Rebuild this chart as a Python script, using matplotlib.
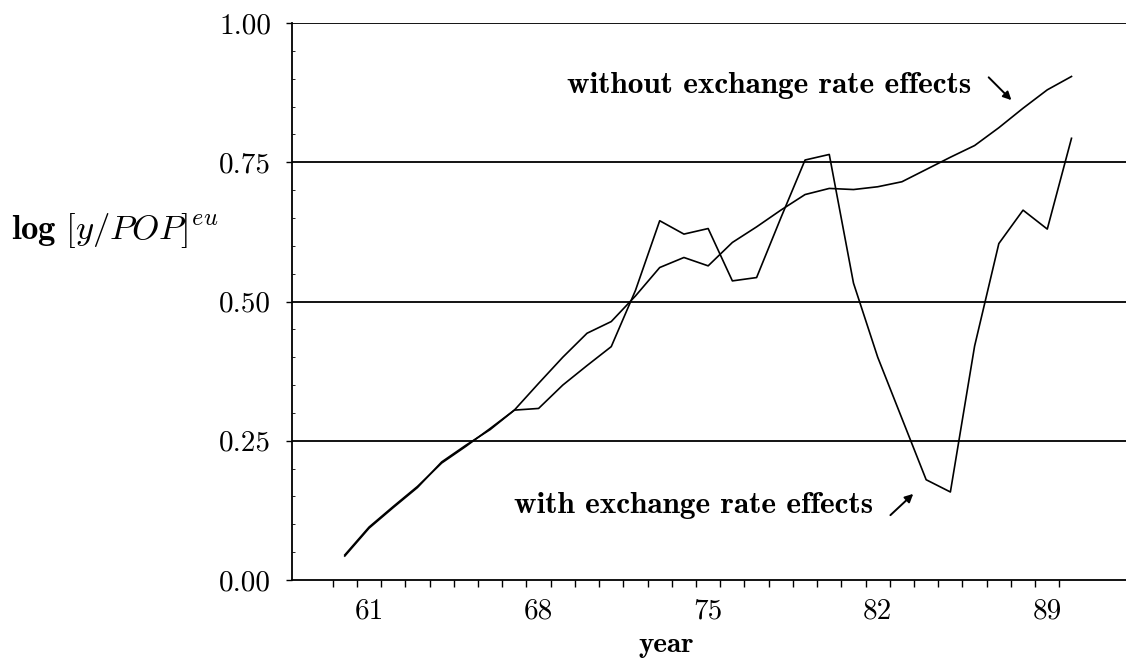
import numpy as np
import matplotlib
matplotlib.use('Agg')
import matplotlib.pyplot as plt
from matplotlib.ticker import FixedLocator, MultipleLocator

# data (years 1960-1990)
years = [60, 61, 62, 63, 64, 65, 66, 67, 68, 69, 70, 71, 72, 73, 74, 75,
         76, 77, 78, 79, 80, 81, 82, 83, 84, 85, 86, 87, 88, 89, 90]
without_fx = [0.045, 0.095, 0.132, 0.168, 0.210, 0.240, 0.272, 0.305, 0.353, 0.400,
              0.443, 0.464, 0.510, 0.561, 0.579, 0.564, 0.606, 0.634, 0.664, 0.692,
              0.703, 0.701, 0.706, 0.715, 0.737, 0.759, 0.780, 0.812, 0.847, 0.880, 0.904]
with_fx = [0.043, 0.093, 0.130, 0.166, 0.212, 0.242, 0.270, 0.305, 0.308, 0.350,
           0.385, 0.419, 0.520, 0.645, 0.621, 0.631, 0.537, 0.543, 0.650, 0.754,
           0.764, 0.533, 0.400, 0.290, 0.180, 0.158, 0.420, 0.604, 0.664, 0.630, 0.793]

xtick_pos = [61, 68, 75, 82, 89]
xtick_labels = ['61', '68', '75', '82', '89']
ytick_pos = [0.0, 0.25, 0.5, 0.75, 1.0]
ytick_labels = ['0.00', '0.25', '0.50', '0.75', '1.00']

plt.rcParams['mathtext.fontset'] = 'cm'
plt.rcParams['axes.unicode_minus'] = False

fig = plt.figure(figsize=(11.26, 6.66), dpi=100)
ax = fig.add_axes([292/1126, 86/666, 834/1126, 557/666])

ax.plot(years, without_fx, color='black', lw=1.2)
ax.plot(years, with_fx, color='black', lw=1.2)

ax.set_xlim(57.82, 92.25)
ax.set_ylim(0, 1.0)

for v in ytick_pos[1:]:
    ax.axhline(v, color='black', lw=1.3, zorder=0.5)

ax.spines['top'].set_visible(False)
ax.spines['right'].set_visible(False)
ax.spines['left'].set_linewidth(1.3)
ax.spines['bottom'].set_linewidth(1.3)

ax.set_xticks(xtick_pos)
ax.set_xticklabels(xtick_labels, fontfamily='cmr10', fontsize=21)
ax.xaxis.set_minor_locator(FixedLocator(np.arange(59.5, 90, 1)))
ax.tick_params(axis='x', which='major', length=0, pad=13)
ax.tick_params(axis='x', which='minor', length=5, width=1.0, direction='out')

ax.set_yticks(ytick_pos)
ax.set_yticklabels(ytick_labels, fontfamily='cmr10', fontsize=21)
ax.yaxis.set_minor_locator(MultipleLocator(0.05))
ax.tick_params(axis='y', which='major', length=4, width=1.0, direction='out', pad=11)
ax.tick_params(axis='y', which='minor', length=2, width=0.6, direction='in')

ax.text(85.85, 0.874, 'without exchange rate effects', fontfamily='cmb10',
        fontsize=22.5, ha='right', va='baseline')
ax.text(81.8, 0.120, 'with exchange rate effects', fontfamily='cmb10',
        fontsize=22.5, ha='right', va='baseline')

ax.annotate('', xy=(87.6, 0.858), xytext=(86.5, 0.906),
            arrowprops=dict(arrowstyle='-|>', color='black', lw=1.4, mutation_scale=12))
ax.annotate('', xy=(83.55, 0.158), xytext=(82.44, 0.113),
            arrowprops=dict(arrowstyle='-|>', color='black', lw=1.4, mutation_scale=12))

fig.text(115/1126, 1 - 230/666, r'$\mathbf{log}\ [y/POP]^{eu}$', fontsize=25,
         ha='center', va='center')
fig.text(666/1126, 1 - 645/666, 'year', fontfamily='cmb10', fontsize=21,
         ha='center', va='center')

fig.savefig('out.png', dpi=100)
